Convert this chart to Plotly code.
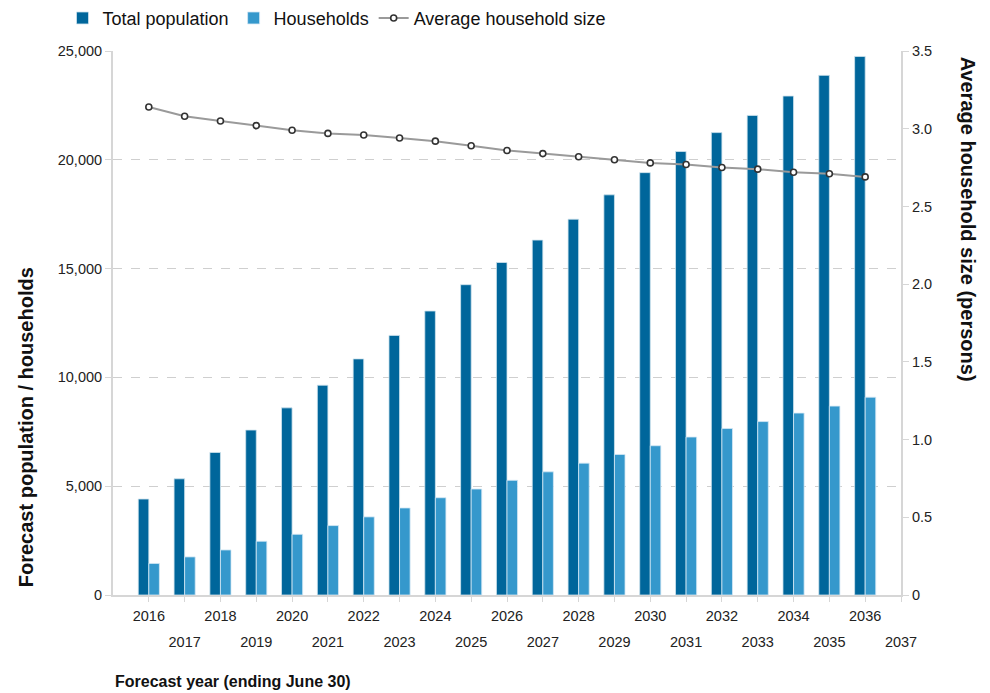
import plotly.graph_objects as go

years = list(range(2016, 2037))
total_population = [4410, 5340, 6550, 7580, 8600, 9640, 10850, 11930, 13050, 14260,
                    15280, 16310, 17270, 18390, 19410, 20380, 21250, 22040, 22930, 23880, 24750]
households = [1450, 1750, 2070, 2470, 2790, 3190, 3590, 4000, 4470, 4870,
              5270, 5660, 6060, 6460, 6860, 7260, 7650, 7970, 8360, 8680, 9090]
avg_household_size = [3.14, 3.08, 3.05, 3.02, 2.99, 2.97, 2.96, 2.94, 2.92, 2.89,
                      2.86, 2.84, 2.82, 2.80, 2.78, 2.77, 2.75, 2.74, 2.72, 2.71, 2.69]

tick_years = list(range(2016, 2038))
even_years = [y for y in tick_years if y % 2 == 0]
odd_years = [y for y in tick_years if y % 2 == 1]
left_ticks = [0, 5000, 10000, 15000, 20000, 25000]
right_ticks = [0, 0.5, 1.0, 1.5, 2.0, 2.5, 3.0, 3.5]
right_labels = ["0", "0.5", "1.0", "1.5", "2.0", "2.5", "3.0", "3.5"]

FONT = "Liberation Sans, Arial, sans-serif"
DARK = "#00669b"
LIGHT = "#3598cc"
GRID = "#cfcfcf"
AXIS = "#d6d6d6"
TICKC = "#222222"

fig = go.Figure()
fig.add_trace(go.Bar(
    x=years, y=total_population, name="Total population",
    marker=dict(color=DARK, line=dict(color="#cfe3ee", width=0.8)),
    offsetgroup="a",
))
fig.add_trace(go.Bar(
    x=years, y=households, name="Households",
    marker=dict(color=LIGHT, line=dict(color="#d5e9f5", width=0.8)),
    offsetgroup="b",
))
fig.add_trace(go.Scatter(
    x=years, y=avg_household_size, name="Average household size", yaxis="y2",
    mode="lines+markers",
    line=dict(color="#9a9a9a", width=2),
    marker=dict(symbol="circle", size=6, color="white", line=dict(color="#333333", width=1.6)),
))
# helper trace so the second-row (odd year) label axis is drawn
fig.add_trace(go.Scatter(
    x=odd_years, y=[None] * len(odd_years), xaxis="x2", showlegend=False,
    hoverinfo="skip", mode="markers",
))

fig.update_layout(
    width=982, height=685,
    paper_bgcolor="white", plot_bgcolor="white",
    margin=dict(l=105, r=89, t=43, b=97.5, autoexpand=False),
    font=dict(family=FONT, color=TICKC, size=14.5),
    barmode="group", bargap=0.41, bargroupgap=0,
    showlegend=True,
    legend=dict(orientation="h", xref="container", yref="container",
                x=0.0555, y=0.985, xanchor="left", yanchor="middle",
                font=dict(size=18, family=FONT, color="#111111"),
                traceorder="normal"),
    xaxis=dict(
        range=[2015, 2037], tickmode="array", tickvals=tick_years,
        ticktext=[str(y) if y % 2 == 0 else "" for y in tick_years],
        showgrid=False, zeroline=False, showline=True, linecolor=AXIS, linewidth=2,
        ticks="outside", ticklen=5, tickcolor=AXIS, tickangle=0,
        ticklabelstandoff=2,
        tickfont=dict(size=14.5, color=TICKC),
    ),
    xaxis2=dict(
        overlaying="x", matches="x", side="bottom", anchor="y",
        range=[2015, 2037], tickmode="array", tickvals=odd_years,
        ticktext=[str(y) for y in odd_years],
        showgrid=False, zeroline=False, showline=False,
        ticks="", tickangle=0, ticklabelstandoff=36,
        tickfont=dict(size=14.5, color=TICKC),
    ),
    yaxis=dict(
        range=[0, 25000], tickmode="array", tickvals=left_ticks, tickformat=",",
        showgrid=True, gridcolor=GRID, griddash="dash", gridwidth=1,
        zeroline=False, showline=True, linecolor=AXIS, linewidth=2,
        ticks="outside", ticklen=6, tickcolor=AXIS,
        tickfont=dict(size=14.5, color=TICKC),
    ),
    yaxis2=dict(
        overlaying="y", side="right", range=[0, 3.5],
        tickmode="array", tickvals=right_ticks, ticktext=right_labels,
        showgrid=False, zeroline=False, showline=True, linecolor=AXIS, linewidth=2,
        ticks="outside", ticklen=6, tickcolor=AXIS,
        tickfont=dict(size=14.5, color=TICKC),
    ),
    annotations=[
        dict(text="<b>Forecast population / households</b>", xref="paper", yref="paper",
             x=-0.110, y=0.309, textangle=-90, showarrow=False, xanchor="center", yanchor="middle",
             font=dict(size=20, family=FONT, color="#111111")),
        dict(text="<b>Average household size (persons)</b>", xref="paper", yref="paper",
             x=1.085, y=0.69, textangle=90, showarrow=False, xanchor="center", yanchor="middle",
             font=dict(size=20, family=FONT, color="#111111")),
        dict(text="<b>Forecast year (ending June 30)</b>", xref="paper", yref="paper",
             x=0.0, y=-0.159, showarrow=False, xanchor="left", yanchor="middle",
             font=dict(size=16, family=FONT, color="#111111")),
    ],
)

fig.write_html("out.html")
